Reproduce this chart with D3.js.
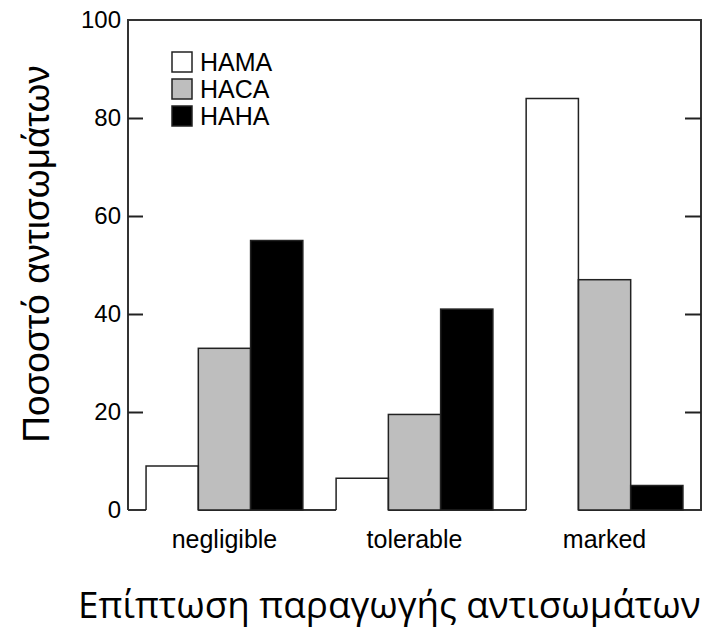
<!DOCTYPE html>
<html>
<head>
<meta charset="utf-8">
<script src="https://cdn.jsdelivr.net/npm/d3@7"></script>
<style>
  body { margin: 0; background: #fff; }
  text { font-family: "Liberation Sans", Arial, sans-serif; fill: #000; }
</style>
</head>
<body>
<div id="chart-container"></div>
<script>
(function () {
    const categories = ["negligible", "tolerable", "marked"];
    const series = ["HAMA", "HACA", "HAHA"];
    const hama = [9, 6.5, 84];
    const haca = [33, 19.5, 47];
    const haha = [55, 41, 5];
    const yTicks = [0, 20, 40, 60, 80, 100];

    const seriesValues = { HAMA: hama, HACA: haca, HAHA: haha };
    const fills = { HAMA: "#ffffff", HACA: "#bebebe", HAHA: "#000000" };

    const W = 719, H = 630;
    const plot = { left: 128, right: 701, top: 20, bottom: 510 };

    const svg = d3.select("#chart-container")
        .append("svg")
        .attr("width", W)
        .attr("height", H);

    const x = d3.scaleBand()
        .domain(categories)
        .range([plot.left, plot.right])
        .paddingInner(0.175)
        .paddingOuter(0.095);

    const xs = d3.scaleBand()
        .domain(series)
        .range([0, x.bandwidth()]);

    const y = d3.scaleLinear()
        .domain([0, 100])
        .range([plot.bottom, plot.top]);

    const rows = [];
    categories.forEach((c, i) => {
        series.forEach(s => rows.push({ cat: c, s: s, v: seriesValues[s][i] }));
    });

    // === Frame ===
    const frame = svg.append("g")
        .attr("stroke", "#333")
        .attr("stroke-width", 2)
        .attr("fill", "none");
    frame.append("path")
        .attr("d", `M${plot.left},${plot.bottom}V${plot.top}H${plot.right}V${plot.bottom}H${plot.left}`);

    // === Axes (ticks pointing inward) ===
    const yAxis = svg.append("g")
        .attr("transform", `translate(${plot.left},0)`)
        .call(d3.axisLeft(y).tickValues(yTicks).tickSize(-15).tickPadding(7));
    yAxis.select(".domain").remove();
    yAxis.selectAll("line").attr("stroke", "#222").attr("stroke-width", 2);
    yAxis.selectAll("text")
        .style("font-family", "'Liberation Sans', Arial, sans-serif")
        .style("font-size", "24px")
        .attr("fill", "#000");
    yAxis.selectAll(".tick")
        .filter(d => d === 0 || d === 100)
        .select("line").remove();

    const yAxisR = svg.append("g")
        .attr("transform", `translate(${plot.right},0)`)
        .call(d3.axisRight(y).tickValues(yTicks.filter(d => d > 0 && d < 100)).tickSize(-16).tickFormat(""));
    yAxisR.select(".domain").remove();
    yAxisR.selectAll("line").attr("stroke", "#222").attr("stroke-width", 2);

    // === Bars ===
    const bars = svg.append("g");

    bars.selectAll("rect")
        .data(rows)
        .join("rect")
        .attr("x", d => x(d.cat) + xs(d.s))
        .attr("y", d => y(d.v))
        .attr("width", xs.bandwidth())
        .attr("height", d => y(0) - y(d.v) + (d.s === "HAMA" ? 2 : 0))
        .attr("fill", d => fills[d.s])
        .attr("stroke", d => d.s === "HAMA" ? "none" : "#222")
        .attr("stroke-width", 1.5);

    // white bars are drawn open at the bottom, as in the original
    bars.selectAll("path")
        .data(rows.filter(d => d.s === "HAMA"))
        .join("path")
        .attr("fill", "none")
        .attr("stroke", "#222")
        .attr("stroke-width", 1.5)
        .attr("d", d => {
            const x0 = x(d.cat) + xs(d.s), x1 = x0 + xs.bandwidth();
            return `M${x0},${y(0)}V${y(d.v)}H${x1}V${y(0)}`;
        });

    // === Category labels ===
    svg.append("g")
        .selectAll("text")
        .data(categories)
        .join("text")
        .attr("x", d => x(d) + x.bandwidth() / 2)
        .attr("y", 548)
        .attr("text-anchor", "middle")
        .style("font-size", "25px")
        .text(d => d);

    // === Legend ===
    const legend = svg.append("g")
        .selectAll("g")
        .data(series)
        .join("g")
        .attr("transform", (d, i) => `translate(172,${52 + i * 27})`);
    legend.append("rect")
        .attr("width", 20)
        .attr("height", 20)
        .attr("fill", d => fills[d])
        .attr("stroke", "#222")
        .attr("stroke-width", 1.5);
    legend.append("text")
        .attr("x", 28)
        .attr("y", 19)
        .style("font-size", "25px")
        .text(d => d);

    // === Axis titles ===
    svg.append("text")
        .attr("transform", "translate(49,254) rotate(-90)")
        .attr("text-anchor", "middle")
        .style("font-size", "37px")
        .text("Ποσοστό αντισωμάτων");

    const xTitle = svg.append("text")
        .attr("x", 78)
        .attr("y", 618)
        .style("font-family", "'Open Sans', 'Noto Sans', sans-serif")
        .style("font-size", "32px")
        .text("Επίπτωση παραγωγής αντισωμάτων");
    // fit the title to the width it has in the original
    const len = xTitle.node().getComputedTextLength();
    xTitle.style("font-size", (32 * 623 / len).toFixed(1) + "px");
})();
</script>
</body>
</html>
